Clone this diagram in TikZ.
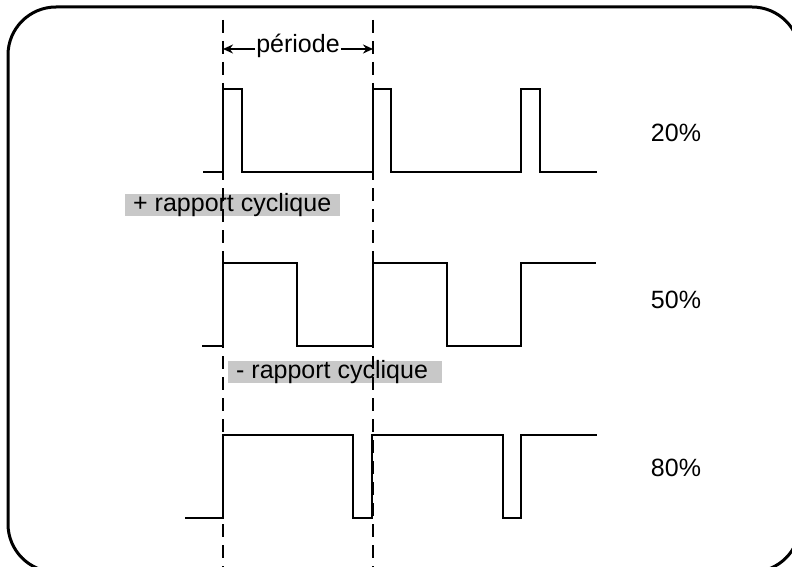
\documentclass[tikz,border=0pt]{standalone}
\usepackage{fontspec}
\setmainfont{Liberation Sans}
\usetikzlibrary{arrows.meta}
\definecolor{boxgray}{RGB}{200,200,200}
\tikzset{
  wave/.style={line width=2.4pt, line join=miter},
  guide/.style={line width=2.2pt, dash pattern=on 13pt off 8pt},
  frame/.style={line width=3pt, rounded corners=48pt},
  graybox/.style={fill=boxgray, anchor=west, inner xsep=8pt, inner ysep=0pt,
    text height=17.5pt, text depth=4.5pt,
    font=\fontsize{25}{28}\selectfont},
  lbl/.style={font=\fontsize{25}{28}\selectfont, inner sep=1pt},
  dimarrow/.style={line width=1.8pt, -{Stealth[length=10pt,width=9pt]}}
}
\begin{document}
\begin{tikzpicture}[x=1pt,y=-1pt]
\useasboundingbox (0,0) rectangle (792,567);
\clip (0,0) rectangle (792,567);
\draw[frame] (8,7) rectangle (800,572);
% gray labels
\node[graybox] (plus) at (125,205) {\makebox[199pt][l]{+ rapport cyclique}};
\node[graybox] (minus) at (228,372) {\makebox[198pt][l]{- rapport cyclique}};
% waveforms
\draw[wave] (203,172) -- (223,172) -- (223,89) -- (242,89) -- (242,172) -- (373,172) -- (373,89) -- (391,89) -- (391,172) -- (521,172) -- (521,89) -- (540,89) -- (540,172) -- (597,172);
\draw[wave] (202,346) -- (223,346) -- (223,263) -- (297,263) -- (297,346) -- (373,346) -- (373,263) -- (447,263) -- (447,346) -- (521,346) -- (521,263) -- (596,263);
\draw[wave] (185,518) -- (223,518) -- (223,435) -- (353,435) -- (353,518) -- (372,518) -- (372,435) -- (503,435) -- (503,518) -- (521,518) -- (521,435) -- (597,435);
% guides
\coordinate (g1top) at (223,20);
\coordinate (g1bot) at (223,567);
\coordinate (g2top) at (373,20);
\coordinate (g2bot) at (373,567);
\draw[guide] (g1top) -- (g1bot);
\draw[guide] (g2top) -- (g2bot);
% period
\node[lbl] (per) at (298,46) {période};
\coordinate (pl) at (223,49);
\coordinate (pr) at (373,49);
\draw[dimarrow] (per.west |- pl) -- (pl);
\draw[dimarrow] (per.east |- pr) -- (pr);
% percentages
\node[lbl] (p20) at (676,133) {20\%};
\node[lbl] (p50) at (676,300) {50\%};
\node[lbl] (p80) at (676,468) {80\%};
\end{tikzpicture}
\end{document}
